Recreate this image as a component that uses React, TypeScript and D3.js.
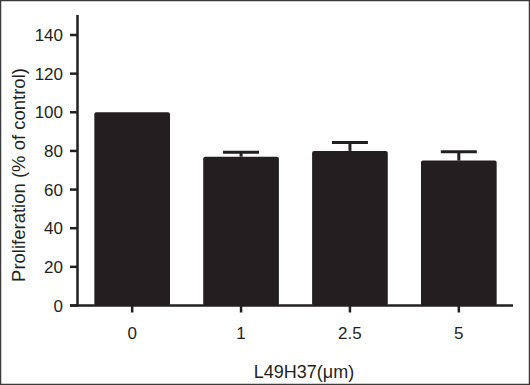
import React from "react";
import * as d3 from "d3";

const categories = ["0", "1", "2.5", "5"];
const means = [100, 77, 80, 75];
const errors = [0, 2.3, 4.3, 4.6];
const yTicks = [0, 20, 40, 60, 80, 100, 120, 140];

const W = 530;
const H = 385;
const ink = "#231f20";
const font = "Arial, 'Liberation Sans', Helvetica, sans-serif";

const App = () => {
  const x = d3
    .scaleBand()
    .domain(categories)
    .range([78, 513])
    .paddingInner(0.305)
    .paddingOuter(0.15);

  const y = d3.scaleLinear().domain([0, 140]).range([305.5, 35]);
  const capW = 36;

  return (
    <svg
      width={W}
      height={H}
      style={{ position: "absolute", left: 0, top: 0, background: "#fff" }}
      fontFamily={font}
    >
      <rect x={0.5} y={0.5} width={W - 1} height={H - 1} fill="#fff" stroke="#3a3a3a" strokeWidth={1.5} />

      {/* bars */}
      {categories.map((c, i) => (
        <rect
          key={c}
          x={x(c)}
          y={y(means[i])}
          width={x.bandwidth()}
          height={y(0) - y(means[i])}
          fill={ink}
          rx={2}
        />
      ))}

      {/* error bars */}
      {categories.map((c, i) =>
        errors[i] > 0 ? (
          <g key={"e" + c} stroke={ink} strokeWidth={3}>
            <line
              x1={x(c) + x.bandwidth() / 2}
              x2={x(c) + x.bandwidth() / 2}
              y1={y(means[i])}
              y2={y(means[i] + errors[i])}
            />
            <line
              x1={x(c) + x.bandwidth() / 2 - capW / 2}
              x2={x(c) + x.bandwidth() / 2 + capW / 2}
              y1={y(means[i] + errors[i])}
              y2={y(means[i] + errors[i])}
            />
          </g>
        ) : null
      )}

      {/* y axis */}
      <line x1={77.5} x2={77.5} y1={15} y2={y(0) + 1} stroke={ink} strokeWidth={2.5} />
      {yTicks.map((t) => (
        <g key={t}>
          <line x1={70} x2={77.5} y1={y(t)} y2={y(t)} stroke={ink} strokeWidth={2.5} />
          <text x={63} y={y(t)} dy="0.36em" textAnchor="end" fontSize={17} fill={ink}>
            {t}
          </text>
        </g>
      ))}

      {/* x axis */}
      <line x1={70} x2={513} y1={y(0)} y2={y(0)} stroke={ink} strokeWidth={2.5} />
      {categories.map((c) => (
        <g key={"t" + c}>
          <line
            x1={x(c) + x.bandwidth() / 2}
            x2={x(c) + x.bandwidth() / 2}
            y1={y(0)}
            y2={y(0) + 7}
            stroke={ink}
            strokeWidth={2.5}
          />
          <text x={x(c) + x.bandwidth() / 2} y={339} textAnchor="middle" fontSize={17} fill={ink}>
            {c}
          </text>
        </g>
      ))}

      <text x={304} y={378} textAnchor="middle" fontSize={18} fill={ink}>
        L49H37(μm)
      </text>
      <text
        transform="translate(25,175) rotate(-90)"
        textAnchor="middle"
        fontSize={18.5}
        fill={ink}
      >
        Proliferation (% of control)
      </text>
    </svg>
  );
};

export default App;
